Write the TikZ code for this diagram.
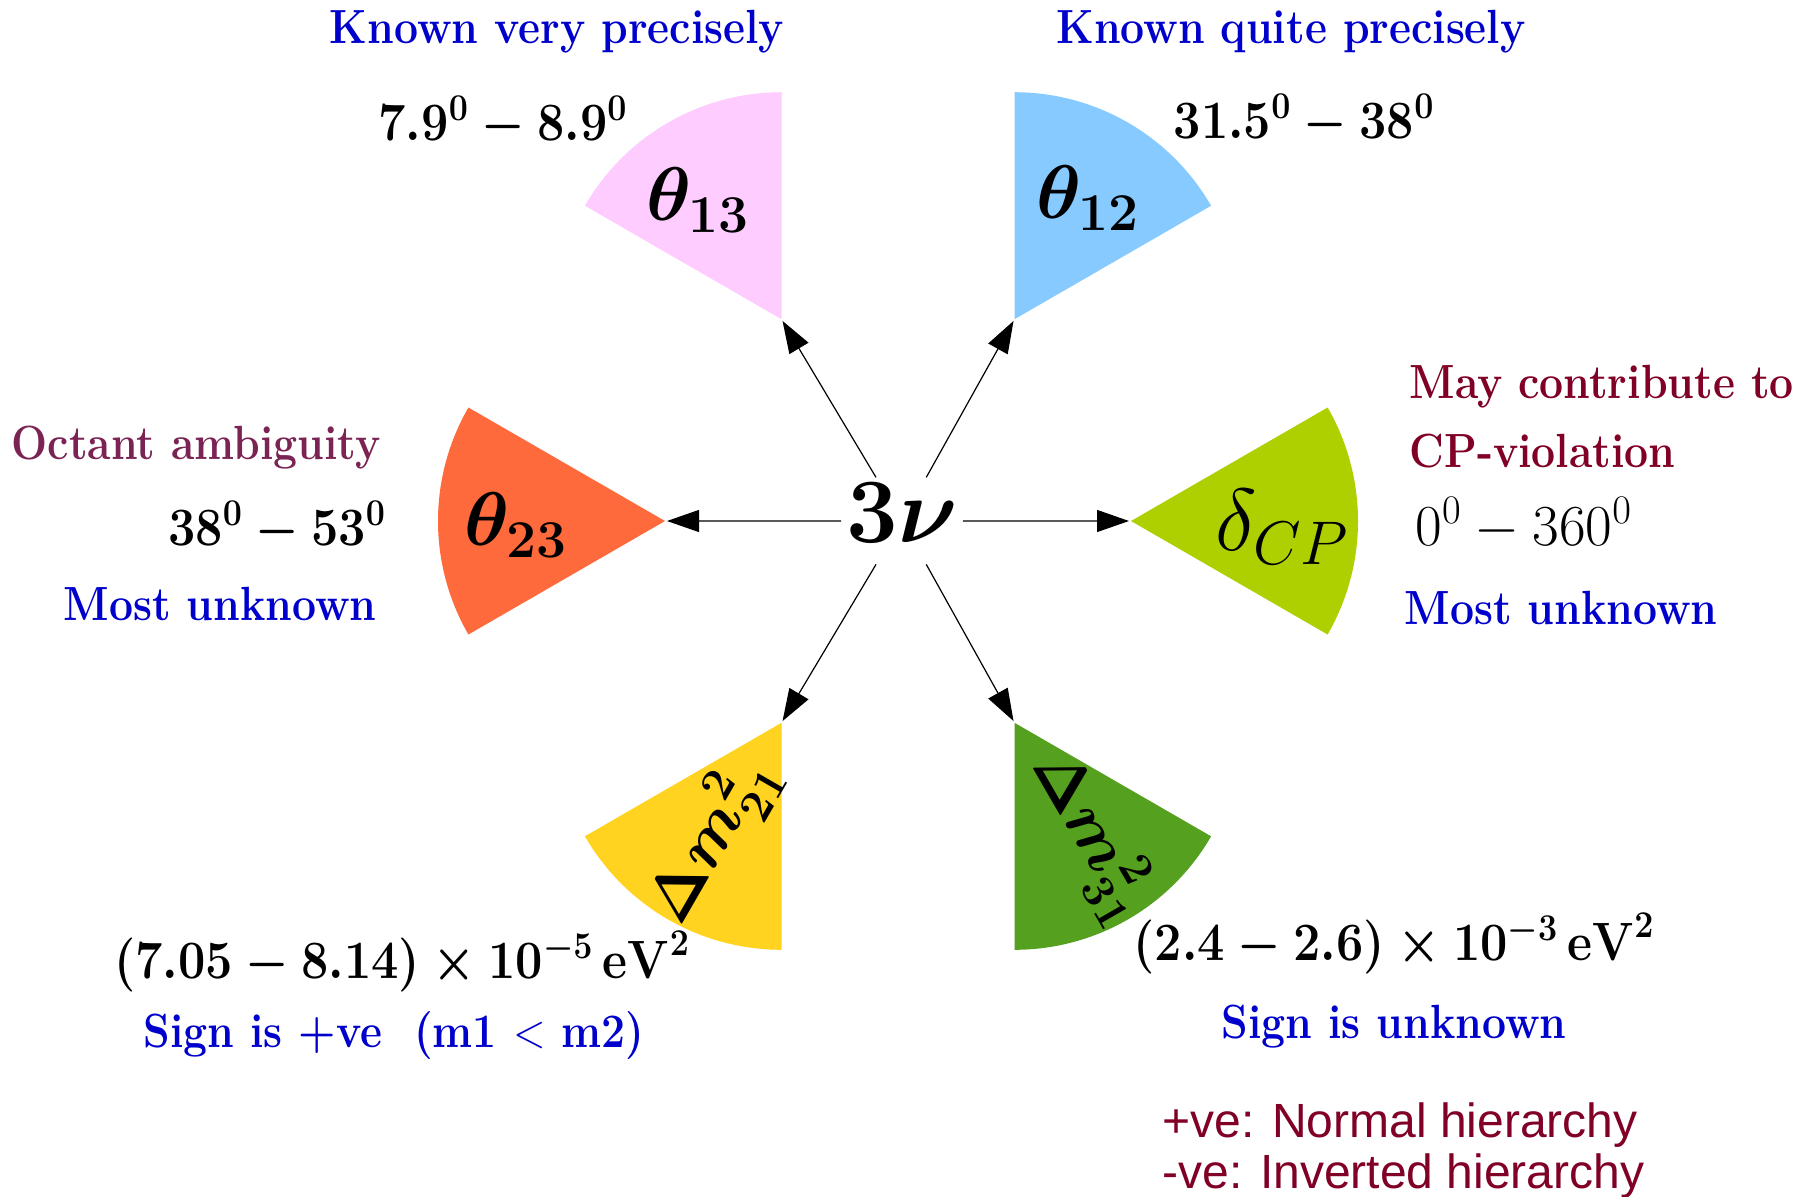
\RequirePackage{fix-cm}
\documentclass[tikz,border=0pt]{standalone}
\usepackage{graphicx}
\usepackage[no-math]{fontspec}
\newfontfamily\hierfont{Liberation Sans}
\usetikzlibrary{arrows.meta}
\definecolor{kblue}{RGB}{0,0,204}
\definecolor{kpurple}{RGB}{123,36,84}
\definecolor{kred}{RGB}{128,0,38}
\definecolor{wpink}{RGB}{255,204,255}
\definecolor{wblue}{RGB}{135,202,255}
\definecolor{worange}{RGB}{255,106,61}
\definecolor{wlime}{RGB}{174,207,0}
\definecolor{wgold}{RGB}{255,211,32}
\definecolor{wgreen}{RGB}{85,160,30}
\newcommand{\cnd}[1]{\scalebox{0.89}[1]{#1}}
\newcommand{\cndv}[1]{\scalebox{0.90}[1]{#1}}
\begin{document}
\begin{tikzpicture}[x=0.5pt,y=0.5pt,
  note/.style={inner sep=0pt, font=\fontsize{24}{28}\selectfont\bfseries},
  val/.style={inner sep=0pt, font=\fontsize{27}{32}\selectfont\boldmath\bfseries},
  valn/.style={inner sep=0pt, font=\fontsize{29}{34}\selectfont},
  wlabel/.style={inner sep=0pt, font=\fontsize{38}{44}\selectfont\boldmath},
  mlabel/.style={inner sep=0pt, font=\fontsize{33}{39}\selectfont\boldmath},
  hier/.style={inner sep=0pt, kred, font=\fontsize{24}{28}\selectfont\hierfont},
  conn/.style={-{Triangle[length=16pt,width=11pt]}, line width=0.6pt, shorten >=1pt},
]
\useasboundingbox[fill=white] (0,0) rectangle (1808,-1196);

% hub and wedge apexes
\coordinate (C) at (898,-521);
\path (C) ++(120:233) coordinate (a13);
\path (C) ++(60:233) coordinate (a12);
\path (C) ++(180:233) coordinate (a23);
\path (C) ++(0:233) coordinate (acp);
\path (C) ++(240:233) coordinate (a21);
\path (C) ++(300:233) coordinate (a31);

% wedges
\fill[wpink]   (a13) -- ++(90:227)  arc[start angle=90,  end angle=150, radius=227] -- cycle;
\fill[wblue]   (a12) -- ++(30:227)  arc[start angle=30,  end angle=90,  radius=227] -- cycle;
\fill[worange] (a23) -- ++(150:227) arc[start angle=150, end angle=210, radius=227] -- cycle;
\fill[wlime]   (acp) -- ++(-30:227) arc[start angle=-30, end angle=30,  radius=227] -- cycle;
\fill[wgold]   (a21) -- ++(210:227) arc[start angle=210, end angle=270, radius=227] -- cycle;
\fill[wgreen]  (a31) -- ++(270:227) arc[start angle=270, end angle=330, radius=227] -- cycle;

% wedge labels
\node[wlabel] (l13) at (698,-200) {$\theta_{13}$};
\node[wlabel] (l12) at (1088,-198) {$\theta_{12}$};
\node[wlabel] (l23) at (516,-525) {$\theta_{23}$};
\node[inner sep=0pt, font=\fontsize{44}{50}\selectfont] (lcp) at (1282,-527) {$\delta_{CP}$};
\node[mlabel, rotate=60] (l21) at (712,-840) {$\Delta m^2_{21}$};
\node[mlabel, rotate=-60] (l31) at (1092,-836) {$\Delta m^2_{31}$};

% centre
\node[font=\fontsize{46}{52}\selectfont\boldmath, inner sep=2.5pt, text depth=8.5pt, anchor=base] (nu) at (902,-542) {$3\nu$};

% arrows
\draw[conn] (nu) -- (a13);
\draw[conn] (nu) -- (a12);
\draw[conn] (nu) -- (a23);
\draw[conn] (nu) -- (acp);
\draw[conn] (nu) -- (a21);
\draw[conn] (nu) -- (a31);

% annotations
\node[note, kblue, anchor=base] (t1) at (557,-43) {\cnd{Known very precisely}};
\node[note, kblue, anchor=base] (t2) at (1291,-43) {\cnd{Known quite precisely}};
\node[val, anchor=base] (v13) at (503,-140) {\cndv{$7.9^0-8.9^0$}};
\node[val, anchor=base] (v12) at (1304,-138) {\cndv{$31.5^0-38^0$}};
\node[note, kpurple, anchor=base] (t3) at (196,-459) {\cnd{Octant ambiguity}};
\node[val, anchor=base] (v23) at (277,-545) {\cndv{$38^0-53^0$}};
\node[note, kblue, anchor=base] (t4) at (220,-620) {\cnd{Most unknown}};
\node[note, kred, anchor=base west] (t5) at (1409,-398) {\cnd{May contribute to}};
\node[note, kred, anchor=base west] (t6) at (1409,-467) {\cnd{CP-violation}};
\node[valn, anchor=base west] (vcp) at (1415,-545) {$0^0-360^0$};
\node[note, kblue, anchor=base west] (t7) at (1404,-624) {\cnd{Most unknown}};
\node[val, anchor=base] (v21) at (402,-978) {\cndv{$(7.05-8.14)\times10^{-5}\,\mathbf{eV}^2$}};
\node[note, kblue, anchor=base] (t8) at (394,-1047) {\cnd{Sign is +ve~~(m1 $<$ m2)}};
\node[val, anchor=base] (v31) at (1394,-960) {\cndv{$(2.4-2.6)\times10^{-3}\,\mathbf{eV}^2$}};
\node[note, kblue, anchor=base] (t9) at (1394,-1038) {\cnd{Sign is unknown}};
\node[hier, anchor=base west] (t10) at (1162,-1137) {+ve: Normal hierarchy};
\node[hier, anchor=base west] (t11) at (1162,-1188) {-ve: Inverted hierarchy};
\end{tikzpicture}
\end{document}
